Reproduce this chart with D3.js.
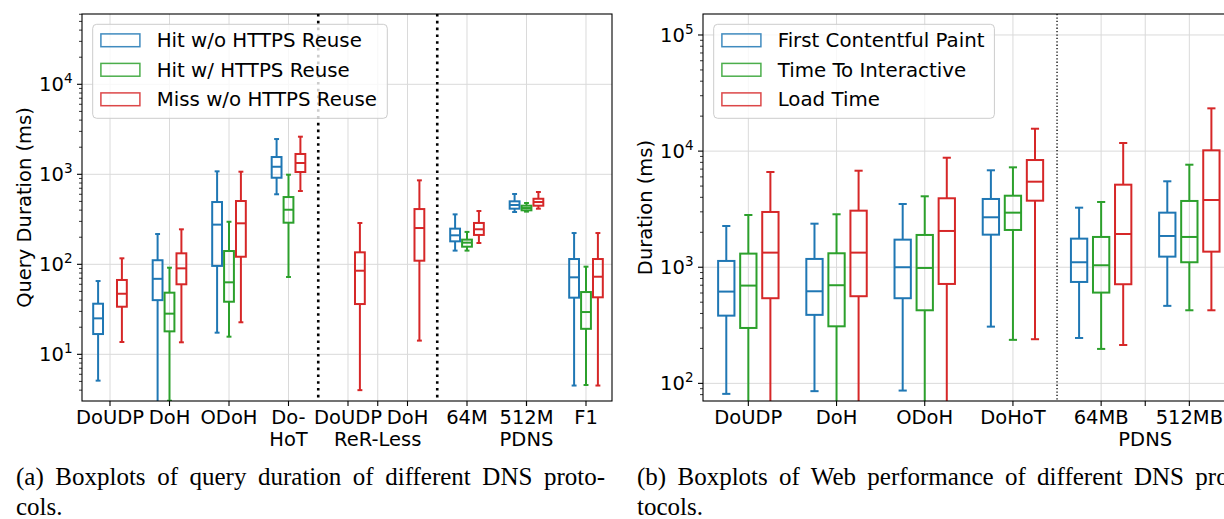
<!DOCTYPE html>
<html>
<head>
<meta charset="utf-8">
<script src="https://cdn.jsdelivr.net/npm/d3@7"></script>
<style>
  body { margin: 0; background: #fff; }
  svg { display: block; }
</style>
</head>
<body>
<svg id="fig" width="1224" height="519"></svg>
<script>
// ---------- Panel (a): query duration per DNS protocol ----------
// Each entry: [lower whisker, Q1, median, Q3, upper whisker] in ms; null = not measured
const queryCategories = ["DoUDP", "DoH", "ODoH", "Do-\nHoT", "DoUDP", "DoH", "64M", "512M", "F1"];
const queryGroupLabels = [{ pos: 4.5, text: "ReR-Less" }, { pos: 7, text: "PDNS" }];
const querySeriesNames = ["Hit w/o HTTPS Reuse", "Hit w/ HTTPS Reuse", "Miss w/o HTTPS Reuse"];
const queryHitNoReuse = [
  [5.1, 16.8, 25.1, 36.5, 65.2],
  [1.5, 40, 69, 111, 217],
  [17.4, 96, 276, 492, 1079],
  [600, 916, 1213, 1556, 2465],
  null,
  null,
  [142, 180, 210, 249, 359],
  [381, 415, 456, 501, 604],
  [4.5, 42.6, 71.7, 114.5, 222.6]
];
const queryHitReuse = [
  null,
  [3.05, 18, 28.3, 48.4, 91.7],
  [15.7, 38.4, 63.1, 140.5, 297],
  [72.3, 290, 404, 559, 990],
  null,
  null,
  [142, 157, 174, 188, 229],
  [385, 398, 422, 448, 480],
  [4.56, 19.2, 29.5, 49.2, 94.1]
];
const queryMissNoReuse = [
  [13.7, 33.8, 47.1, 67, 116.6],
  [13.6, 60, 90.2, 132.5, 244.8],
  [22.7, 121.4, 285.5, 505, 1069],
  [652, 1061, 1336, 1682, 2618],
  [4.0, 36.2, 84.9, 135.9, 287.6],
  [14.2, 109.7, 253, 411, 857],
  [172.5, 212, 245, 288, 391],
  [415, 448, 492, 535, 636],
  [4.5, 43, 72.8, 114.5, 222.6]
];
const queryYDomain = [3.03, 60400];
const queryYTicks = [1, 2, 3, 4];          // exponents of labelled decades
const querySeparators = [3.5, 5.5];

// ---------- Panel (b): web performance per DNS protocol ----------
const webCategories = ["DoUDP", "DoH", "ODoH", "DoHoT", "64MB", "512MB"];
const webGroupLabels = [{ pos: 4.5, text: "PDNS" }];
const webSeriesNames = ["First Contentful Paint", "Time To Interactive", "Load Time"];
const webFCP = [
  [81.2, 383, 617, 1133, 2266],
  [85.7, 389, 621, 1179, 2372],
  [86.7, 541, 1000, 1728, 3506],
  [308, 1908, 2693, 3871, 6836],
  [246, 747, 1104, 1763, 3258],
  [465, 1234, 1859, 2951, 5497]
];
const webTTI = [
  [40, 300, 695, 1310, 2818],
  [40, 310, 700, 1319, 2858],
  [40, 426, 986, 1897, 4083],
  [237, 2094, 2951, 4130, 7250],
  [198, 605, 1040, 1823, 3648],
  [426, 1104, 1823, 3722, 7638]
];
const webLoad = [
  [40, 541, 1336, 2992, 6607],
  [40, 563, 1336, 3070, 6780],
  [40, 718, 2053, 3925, 8772],
  [240, 3742, 5454, 8380, 15590],
  [214, 714, 1934, 5140, 11740],
  [426, 1362, 3795, 10160, 23350]
];
const webYDomain = [70.5, 151600];
const webYTicks = [2, 3, 4, 5];
const webSeparators = [3.5];

const colors = ["#1f77b4", "#2ca02c", "#d62728"];
const FONT = "DejaVu Sans, Verdana, sans-serif";
const FS = 19.5;
const LEGEND_FS = 19.8;

const svg = d3.select("#fig");

function drawPanel(cfg) {
  const { id, left, right, top, bottom, xDomain, yDomain, categories, groupLabels,
          series, offset, boxW, yTicks, separators, sepWidth, sepDash, yLabel, yLabelX,
          legendW } = cfg;
  const x = d3.scaleLinear().domain(xDomain).range([left, right]);
  const y = d3.scaleLog().domain(yDomain).range([bottom, top]);
  const g = svg.append("g");

  g.append("clipPath").attr("id", id + "-clip")
    .append("rect").attr("x", left).attr("y", top)
    .attr("width", right - left).attr("height", bottom - top);

  // grid
  const grid = g.append("g").attr("stroke", "#dadada").attr("stroke-width", 1);
  yTicks.forEach(e => {
    const yy = y(Math.pow(10, e));
    grid.append("line").attr("x1", left).attr("x2", right).attr("y1", yy).attr("y2", yy);
  });
  const xTickPos = categories.map((c, i) => i).concat(groupLabels.map(d => d.pos));
  xTickPos.forEach(p => {
    grid.append("line").attr("x1", x(p)).attr("x2", x(p)).attr("y1", top).attr("y2", bottom);
  });

  // separators between protocol groups
  separators.forEach(p => {
    g.append("line").attr("x1", x(p)).attr("x2", x(p)).attr("y1", top).attr("y2", bottom)
      .attr("stroke", "#000").attr("stroke-width", sepWidth).attr("stroke-dasharray", sepDash);
  });

  // boxes
  const boxes = g.append("g").attr("clip-path", `url(#${id}-clip)`)
    .attr("fill", "none").attr("stroke-width", 2);
  series.forEach((s, si) => {
    const sg = boxes.append("g").attr("stroke", colors[si]);
    s.forEach((st, i) => {
      if (!st) return;
      const [lo, q1, med, q3, hi] = st;
      const cx = x(i + (si - 1) * offset);
      const hw = (x(boxW) - x(0)) / 2;
      const cw = hw / 2;
      sg.append("line").attr("x1", cx).attr("x2", cx).attr("y1", y(q3)).attr("y2", y(hi));
      sg.append("line").attr("x1", cx).attr("x2", cx).attr("y1", y(q1)).attr("y2", y(lo));
      sg.append("line").attr("x1", cx - cw).attr("x2", cx + cw).attr("y1", y(hi)).attr("y2", y(hi));
      sg.append("line").attr("x1", cx - cw).attr("x2", cx + cw).attr("y1", y(lo)).attr("y2", y(lo));
      sg.append("rect").attr("x", cx - hw).attr("y", y(q3))
        .attr("width", 2 * hw).attr("height", y(q1) - y(q3));
      sg.append("line").attr("x1", cx - hw).attr("x2", cx + hw).attr("y1", y(med)).attr("y2", y(med));
    });
  });

  // y axis ticks (major + log minor)
  const ax = g.append("g").attr("stroke", "#000");
  const lo10 = Math.floor(Math.log10(yDomain[0])), hi10 = Math.ceil(Math.log10(yDomain[1]));
  for (let e = lo10; e <= hi10; e++) {
    for (let m = 1; m <= 9; m++) {
      const v = m * Math.pow(10, e);
      if (v < yDomain[0] || v > yDomain[1]) continue;
      const len = m === 1 ? 5 : 3;
      ax.append("line").attr("x1", left - len).attr("x2", left).attr("y1", y(v)).attr("y2", y(v))
        .attr("stroke-width", m === 1 ? 1.1 : 0.8);
    }
  }
  yTicks.forEach(e => {
    const t = g.append("text").attr("x", left - 9.5).attr("y", y(Math.pow(10, e)) + 7)
      .attr("text-anchor", "end").attr("font-family", FONT).attr("font-size", FS).attr("fill", "#000");
    t.append("tspan").text("10");
    t.append("tspan").attr("dy", -8).attr("font-size", 13.5).text(e);
  });

  // x axis ticks and labels
  xTickPos.forEach(p => {
    ax.append("line").attr("x1", x(p)).attr("x2", x(p)).attr("y1", bottom).attr("y2", bottom + 5)
      .attr("stroke-width", 1.1);
  });
  categories.forEach((c, i) => {
    c.split("\n").forEach((line, li) => {
      g.append("text").attr("x", x(i)).attr("y", bottom + 22.6 + li * 22.4)
        .attr("text-anchor", "middle").attr("font-family", FONT).attr("font-size", FS).text(line);
    });
  });
  groupLabels.forEach(d => {
    g.append("text").attr("x", x(d.pos)).attr("y", bottom + 45)
      .attr("text-anchor", "middle").attr("font-family", FONT).attr("font-size", FS).text(d.text);
  });

  // y label
  g.append("text").attr("transform", `translate(${yLabelX},${(top + bottom) / 2}) rotate(-90)`)
    .attr("text-anchor", "middle").attr("dominant-baseline", "central")
    .attr("font-family", FONT).attr("font-size", FS).text(yLabel);

  // legend
  const lg = g.append("g");
  const lx = left + 10.7, ly = top + 10.3;
  lg.append("rect").attr("x", lx).attr("y", ly).attr("width", legendW).attr("height", 94)
    .attr("rx", 4).attr("fill", "#fff").attr("fill-opacity", 0.8)
    .attr("stroke", "#cccccc").attr("stroke-width", 1);
  cfg.names.forEach((n, k) => {
    const cy = ly + 16 + k * 29.5;
    lg.append("rect").attr("x", lx + 8.2).attr("y", cy - 6.4).attr("width", 39).attr("height", 12.8)
      .attr("fill", "none").attr("stroke", colors[k]).attr("stroke-width", 1.5).attr("stroke-opacity", 0.85);
    lg.append("text").attr("x", lx + 64).attr("y", cy + 7).attr("font-family", FONT)
      .attr("font-size", LEGEND_FS).text(n);
  });

  // frame
  g.append("rect").attr("x", left).attr("y", top).attr("width", right - left).attr("height", bottom - top)
    .attr("fill", "none").attr("stroke", "#000").attr("stroke-width", 1.1);
}

drawPanel({
  id: "a", left: 82, right: 612, top: 14, bottom: 401,
  xDomain: [-0.4706, 8.437], yDomain: queryYDomain,
  categories: queryCategories, groupLabels: queryGroupLabels,
  series: [queryHitNoReuse, queryHitReuse, queryMissNoReuse], names: querySeriesNames,
  offset: 0.2, boxW: 0.165, yTicks: queryYTicks,
  separators: querySeparators, sepWidth: 2.6, sepDash: "2.6,4.2",
  yLabel: "Query Duration (ms)", yLabelX: 24, legendW: 294.6
});

drawPanel({
  id: "b", left: 703, right: 1233, top: 14, bottom: 401,
  xDomain: [-0.514, 5.495], yDomain: webYDomain,
  categories: webCategories, groupLabels: webGroupLabels,
  series: [webFCP, webTTI, webLoad], names: webSeriesNames,
  offset: 0.25, boxW: 0.185, yTicks: webYTicks,
  separators: webSeparators, sepWidth: 1.3, sepDash: "1.3,2.1",
  yLabel: "Duration (ms)", yLabelX: 645.5, legendW: 280.7
});

// ---------- captions (justified first line) ----------
const SERIF = "Liberation Serif, Times New Roman, serif";
const CAP_FS = 25;
function caption(x0, width, line1, line2) {
  const t1 = svg.append("text").attr("x", x0).attr("y", 485)
    .attr("font-family", SERIF).attr("font-size", CAP_FS).text(line1);
  const natural = t1.node().getComputedTextLength();
  const gaps = line1.split(" ").length - 1;
  t1.attr("word-spacing", Math.max(0, (width - natural) / gaps));
  svg.append("text").attr("x", x0).attr("y", 515)
    .attr("font-family", SERIF).attr("font-size", CAP_FS).text(line2);
}
caption(16, 589, "(a) Boxplots of query duration of different DNS proto-", "cols.");
caption(637, 600, "(b) Boxplots of Web performance of different DNS pro-", "tocols.");
</script>
</body>
</html>
